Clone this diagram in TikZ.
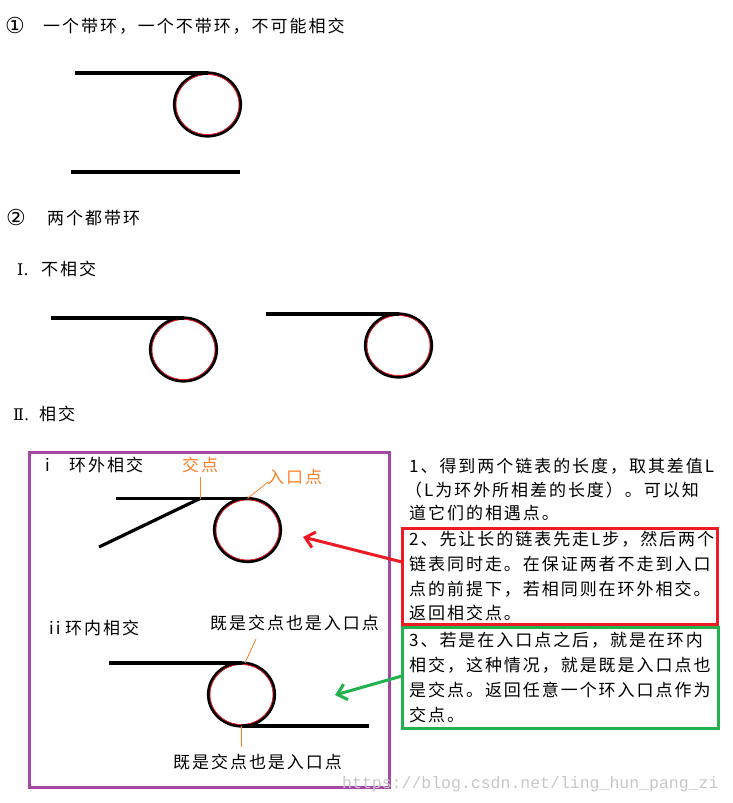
\documentclass[tikz,border=0pt]{standalone}
\usepackage{fontspec}
\usetikzlibrary{arrows.meta,shapes.geometric}
\newfontfamily\cjk[LetterSpace=11.5]{Noto Sans CJK SC}
\newfontfamily\wmfont{Liberation Mono}
\newfontfamily\symfont{DejaVu Sans}
\newfontfamily\romfont{DejaVu Serif}
\definecolor{pred}{HTML}{ED1C24}
\definecolor{pgreen}{HTML}{22B14C}
\definecolor{ppurple}{HTML}{A349A4}
\definecolor{porange}{HTML}{FF7F27}
\begin{document}
\begin{tikzpicture}[x=1pt,y=-1pt,
  txt/.style={font=\cjk\fontsize{17}{20}\selectfont, inner sep=0pt, anchor=base west},
  otxt/.style={txt, text=porange},
  symtxt/.style={font=\symfont\fontsize{22}{24}\selectfont, inner sep=0pt, anchor=base west},
  romtxt/.style={font=\romfont\fontsize{16}{20}\selectfont, inner sep=0pt, anchor=base west},
  chain/.style={line width=3.2pt, black},
  loopc/.style={ellipse, draw=black, line width=3.2pt, minimum width=66pt, minimum height=63pt, inner sep=0pt, outer sep=0pt},
  redin/.style={pred, line width=0.8pt},
  lead/.style={porange, line width=0.8pt},
  framebox/.style={rectangle, draw, line width=3pt, inner sep=0pt, outer sep=0pt, anchor=north west},
  arr/.style={line width=3pt, -{Straight Barb[length=9pt,width=16pt]}}
]
\useasboundingbox (0,0) rectangle (732,803);
\fill[white] (0,0) rectangle (732,803);

% ---- section 1
\node[symtxt] (n1) at (5,33.5) {①};
\node[txt] (h1) at (43,32.5) {一个带环，一个不带环，不可能相交};
\node[loopc] (c1) at (207.5,104.5) {};
\draw[redin] (c1.center) ellipse[x radius=31.6pt, y radius=30.1pt];
\coordinate (a1) at (75,73);
\draw[chain] (a1) -- (c1.north);
\coordinate (b1s) at (71,172);
\coordinate (b1e) at (240,172);
\draw[chain] (b1s) -- (b1e);

% ---- section 2
\node[symtxt] (n2) at (6,225.5) {②};
\node[txt] (h2) at (47,224.5) {两个都带环};
\node[romtxt] (r1) at (17,275) {Ⅰ.};
\node[txt] (h2a) at (41,275.5) {不相交};
\node[loopc] (c2) at (183.5,349.5) {};
\draw[redin] (c2.center) ellipse[x radius=31.6pt, y radius=30.1pt];
\coordinate (a2) at (51,318);
\draw[chain] (a2) -- (c2.north);
\node[loopc] (c3) at (398.5,345.5) {};
\draw[redin] (c3.center) ellipse[x radius=31.6pt, y radius=30.1pt];
\coordinate (a3) at (266,314);
\draw[chain] (a3) -- (c3.north);
\node[romtxt] (r2) at (13,420) {Ⅱ.};
\node[txt] (h2b) at (39,420.5) {相交};

% ---- purple frame
\node[framebox, draw=ppurple, minimum width=360pt, minimum height=335pt, anchor=center] (pbox) at (209,619.5) {};

% case i
\node[txt] (ci) at (45,471) {i};
\node[txt] (cit) at (69,471.5) {环外相交};
\node[otxt] (jd) at (182,471.5) {交点};
\node[otxt] (rk) at (267,483.5) {入口点};
\node[loopc] (c4) at (247.5,530) {};
\draw[redin] (c4.center) ellipse[x radius=31.6pt, y radius=30.1pt];
\coordinate (a4) at (116,498.5);
\draw[chain] (a4) -- (c4.north);
\coordinate (x1) at (200,498.5);
\coordinate (d4) at (99,547);
\draw[chain] (d4) -- (x1);
\coordinate (jdl) at (200,477);
\draw[lead] (jdl) -- (x1);
\coordinate (rkl) at (268,482);
\draw[lead] (rkl) -- (c4.north);

% case ii
\node[txt] (cii) at (49,634) {ii};
\node[txt] (ciit) at (65,634.5) {环内相交};
\node[txt] (bt1) at (210,629.5) {既是交点也是入口点};
\node[loopc] (c5) at (241.5,694.5) {};
\draw[redin] (c5.center) ellipse[x radius=31.6pt, y radius=30.1pt];
\coordinate (a5) at (109,663);
\draw[chain] (a5) -- (c5.north);
\coordinate (e5) at (369,726);
\draw[chain] (c5.south) -- (e5);
\coordinate (bl1) at (256,639);
\coordinate (bl1e) at (245,663);
\draw[lead] (bl1) -- (bl1e);
\coordinate (bl2) at (241.5,747);
\draw[lead] (c5.south) -- (bl2);
\node[txt] (bt2) at (173,768.5) {既是交点也是入口点};

% ---- right texts
\node[txt] (t1a) at (409,472.5) {1、得到两个链表的长度，取其差值L};
\node[txt] (t1b) at (405,496) {（L为环外所相差的长度）。可以知};
\node[txt] (t1c) at (409,519.5) {道它们的相遇点。};

\node[framebox, draw=pred, minimum width=315pt, minimum height=96pt] (box2) at (402,528) {};
\node[txt] (t2a) at (409,545.5) {2、先让长的链表先走L步，然后两个};
\node[txt] (t2b) at (409,570.5) {链表同时走。在保证两者不走到入口};
\node[txt] (t2c) at (409,595) {点的前提下，若相同则在环外相交。};
\node[txt] (t2d) at (409,619.5) {返回相交点。};

\node[framebox, draw=pgreen, minimum width=316pt, minimum height=101pt] (box3) at (402,627) {};
\node[txt] (t3a) at (409,646.5) {3、若是在入口点之后，就是在环内};
\node[txt] (t3b) at (409,671.5) {相交，这种情况，就是既是入口点也};
\node[txt] (t3c) at (409,696.5) {是交点。返回任意一个环入口点作为};
\node[txt] (t3d) at (409,721.5) {交点。};

% ---- arrows
\coordinate (ra0) at (402,562);
\coordinate (ra1) at (303,537);
\draw[arr, pred] (ra0) -- (ra1);
\coordinate (ga0) at (402,676);
\coordinate (ga1) at (335,695);
\draw[arr, pgreen] (ga0) -- (ga1);

% ---- watermark
\node[font=\wmfont\fontsize{16.5}{18}\selectfont, text=black!22, inner sep=0pt, anchor=base west] (wm) at (342,788) {https://blog.csdn.net/ling\_hun\_pang\_zi};
\end{tikzpicture}
\end{document}
